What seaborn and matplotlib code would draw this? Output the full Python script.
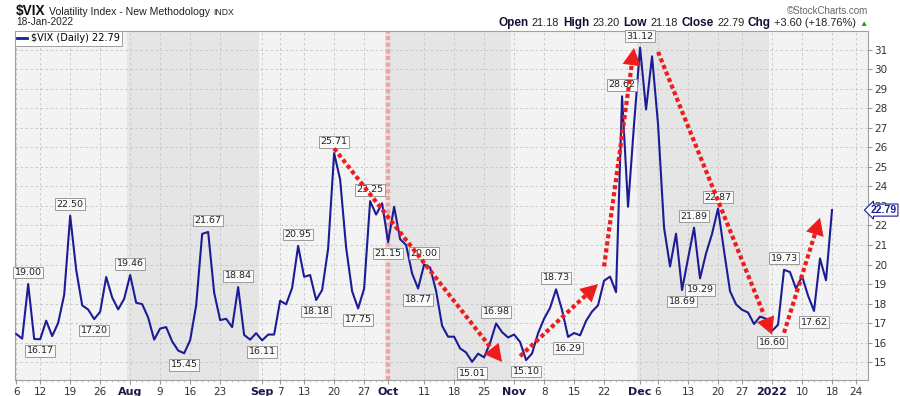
import pandas as pd
import matplotlib
matplotlib.use("Agg")
import matplotlib.pyplot as plt
import seaborn as sns

# --- data: $VIX daily closes ---
jul_close = [16.44, 16.20, 19.00, 16.18, 16.17, 17.12, 16.33, 17.01, 18.45, 22.50,
             19.73, 17.91, 17.69, 17.20, 17.58, 19.36, 18.31, 17.70, 18.24]
aug_close = [19.46, 18.04, 17.97, 17.28, 16.15, 16.72, 16.79, 16.06, 15.59, 15.45,
             16.12, 17.91, 21.57, 21.67, 18.56, 17.15, 17.22, 16.79, 18.84, 16.39,
             16.15, 16.48]
sep_close = [16.11, 16.41, 16.41, 18.14, 17.96, 18.80, 20.95, 19.37, 19.46, 18.18,
             18.69, 20.81, 25.71, 24.36, 20.87, 18.63, 17.75, 18.76, 23.25, 22.56,
             23.14]
oct_close = [21.15, 22.96, 21.30, 21.00, 19.54, 18.77, 20.00, 19.85, 18.64, 16.86,
             16.30, 16.30, 15.70, 15.49, 15.01, 15.43, 15.24, 15.98, 16.98, 16.53,
             16.26]
nov_close = [16.41, 16.03, 15.10, 15.44, 16.48, 17.22, 17.78, 18.73, 17.66, 16.29,
             16.49, 16.37, 17.11, 17.59, 17.91, 19.17, 19.38, 18.58, 28.62, 22.96,
             27.19]
dec_close = [31.12, 27.95, 30.67, 27.18, 21.89, 19.90, 21.58, 18.69, 20.31, 21.89,
             19.29, 20.57, 21.57, 22.87, 20.70, 18.63, 17.96, 17.68, 17.54, 16.95,
             17.33, 17.22]
jan_close = [16.60, 16.91, 19.73, 19.61, 18.76, 19.40, 18.41, 17.62, 20.31, 19.19,
             22.79]

holidays = ["2021-09-06", "2021-11-25", "2021-12-24", "2022-01-17"]

# annotated peaks / troughs: date, 1 = box above, -1 = box below
label_dates = ["2021-07-08", "2021-07-12", "2021-07-19", "2021-07-23", "2021-08-02",
               "2021-08-13", "2021-08-19", "2021-08-26", "2021-09-01", "2021-09-10",
               "2021-09-15", "2021-09-20", "2021-09-24", "2021-09-28", "2021-10-01",
               "2021-10-08", "2021-10-11", "2021-10-21", "2021-10-27", "2021-11-03",
               "2021-11-10", "2021-11-12", "2021-11-26", "2021-12-01", "2021-12-10",
               "2021-12-14", "2021-12-15", "2021-12-20", "2022-01-03", "2022-01-05",
               "2022-01-12"]
label_side = [1, -1, 1, -1, 1, -1, 1, 1, -1, 1, -1, 1, -1, 1, -1, -1, 1, -1, 1, -1,
              1, -1, 1, 1, -1, 1, -1, 1, -1, 1, -1]

tick_dates = ["2021-07-06", "2021-07-12", "2021-07-19", "2021-07-26", "2021-08-02",
              "2021-08-09", "2021-08-16", "2021-08-23", "2021-09-01", "2021-09-07",
              "2021-09-13", "2021-09-20", "2021-09-27", "2021-10-01", "2021-10-11",
              "2021-10-18", "2021-10-25", "2021-11-01", "2021-11-08", "2021-11-15",
              "2021-11-22", "2021-12-01", "2021-12-06", "2021-12-13", "2021-12-20",
              "2021-12-27", "2022-01-03", "2022-01-10", "2022-01-18", "2022-01-24"]
tick_labels = ["6", "12", "19", "26", "Aug", "9", "16", "23", "Sep", "7", "13", "20",
               "27", "Oct", "11", "18", "25", "Nov", "8", "15", "22", "Dec", "6", "13",
               "20", "27", "2022", "10", "18", "24"]
month_starts = ["2021-07-06", "2021-08-02", "2021-09-01", "2021-10-01", "2021-11-01",
                "2021-12-01", "2022-01-03"]

# hand-drawn trend arrows: (from date, from value, to date, to value)
arrows = [("2021-09-20", 25.95, "2021-10-28", 15.00),
          ("2021-11-02", 15.30, "2021-11-19", 19.00),
          ("2021-11-22", 19.90, "2021-11-30", 31.10),
          ("2021-12-06", 30.90, "2022-01-03", 16.40),
          ("2022-01-05", 16.50, "2022-01-13", 22.40)]

# --- build table ---
days = pd.bdate_range("2021-07-06", "2022-01-24")
days = days[~days.isin(pd.to_datetime(holidays))]
pos = {d: i for i, d in enumerate(days)}
closes = jul_close + aug_close + sep_close + oct_close + nov_close + dec_close + jan_close
df = pd.DataFrame({"date": days[:len(closes)], "close": closes})
df["pos"] = range(len(df))
close_by_date = dict(zip(df["date"], df["close"]))


def p(d):
    return pos[pd.Timestamp(d)]


NAVY = "#1c1c96"
RED = "#ee1c1c"

plt.rcParams["font.family"] = ["DejaVu Sans"]
fig = plt.figure(figsize=(9, 3.96), dpi=100)
fig.patch.set_facecolor("white")
ax = fig.add_axes([15 / 900, 16 / 396, 853 / 900, 349 / 396])
ax.set_facecolor("#f3f3f3")

# month bands
for i in range(len(month_starts)):
    x0 = p(month_starts[i]) - 0.5
    x1 = p(month_starts[i + 1]) - 0.5 if i + 1 < len(month_starts) else 200
    if i % 2 == 1:
        ax.axvspan(x0, x1, color="#e5e5e5", lw=0, zorder=0)

ax.set_xlim(-0.2, 142)
ax.set_ylim(14.08, 31.97)

# grid
for d in tick_dates:
    ax.axvline(p(d), color="#c4c4c4", lw=0.6, ls=(0, (3, 3)), zorder=1)
for v in range(15, 32):
    ax.axhline(v, color="#c4c4c4", lw=0.6, ls=(0, (3, 3)), zorder=1)

# pink marker line on Oct 1
ax.axvline(p("2021-10-01"), color="#f2a2a2", lw=3.2, ls=(0, (0.9, 0.6)), zorder=2)

sns.lineplot(data=df, x="pos", y="close", ax=ax, color=NAVY, lw=1.5, zorder=3,
             label=r"\$VIX (Daily) 22.79")

# value boxes
for d, side in zip(label_dates, label_side):
    v = close_by_date[pd.Timestamp(d)]
    ax.annotate(f"{v:.2f}", xy=(p(d), v), xytext=(0, 5 * side), textcoords="offset points",
                ha="center", va="bottom" if side > 0 else "top", fontsize=6.8,
                color="#222222", zorder=4,
                bbox=dict(boxstyle="square,pad=0.15", fc="#fafafa", ec="#9a9a9a", lw=0.7))

# red dotted arrows: dotted stem + solid head
for d0, v0, d1, v1 in arrows:
    x0, x1 = p(d0), p(d1)
    ax.plot([x0, x0 + 0.93 * (x1 - x0)], [v0, v0 + 0.93 * (v1 - v0)], color=RED, lw=3,
            ls=(0, (1, 0.7)), dash_capstyle="butt", zorder=6)
    ax.annotate("", xy=(x1, v1), xytext=(x0, v0), zorder=6,
                arrowprops=dict(arrowstyle="-|>,head_length=0.62,head_width=0.33",
                                fc=RED, ec=RED, lw=0, shrinkA=0, shrinkB=0,
                                mutation_scale=20))

# axes styling
ax.set_xlabel("")
ax.set_ylabel("")
ax.set_xticks([p(d) for d in tick_dates])
ax.set_xticklabels(tick_labels)
ax.set_xticks(range(len(days)), minor=True)
for lab in ax.get_xticklabels():
    if not lab.get_text().isdigit() or lab.get_text() == "2022":
        lab.set_fontweight("bold")
        lab.set_color("#1a1a4a")
        lab.set_fontsize(8)
    else:
        lab.set_color("#333333")
        lab.set_fontsize(7.5)
ax.tick_params(axis="x", which="major", length=3, pad=2, color="#999999")
ax.tick_params(axis="x", which="minor", length=1.5, color="#bbbbbb")

ax.yaxis.tick_right()
ax.set_yticks(range(15, 32))
ax.tick_params(axis="y", length=3, pad=1.5, labelsize=7.5, labelcolor="#333333",
               color="#999999")
for s in ax.spines.values():
    s.set_color("#a0a0a0")
    s.set_linewidth(0.8)

# last price tag
ax.annotate("22.79", xy=(1.0, 22.79), xycoords=("axes fraction", "data"),
            xytext=(2, 0), textcoords="offset points", ha="left", va="center",
            fontsize=7.5, fontweight="bold", color=NAVY, zorder=7,
            family=["Liberation Sans"],
            bbox=dict(boxstyle="larrow,pad=0.1", fc="white", ec=NAVY, lw=0.8),
            annotation_clip=False)

leg = ax.legend(loc="upper left", borderaxespad=0, fancybox=False, framealpha=1,
                edgecolor="#a0a0a0", fontsize=7, handlelength=1.0, handletextpad=0.4,
                borderpad=0.25)
leg.get_frame().set_linewidth(0.7)
for h in leg.get_lines():
    h.set_linewidth(2)


# --- header text ---
def text_row(pieces, x, y, align="left"):
    r = fig.canvas.get_renderer()
    objs = []
    for txt, size, weight, color in pieces:
        t = fig.text(0, y, txt, fontsize=size, fontweight=weight, color=color,
                     family=["Liberation Sans", "DejaVu Sans"], va="baseline")
        objs.append(t)
    widths = [t.get_window_extent(r).width / fig.bbox.width for t in objs]
    gap = 3.5 / 900
    total = sum(widths) + gap * (len(objs) - 1)
    cur = x if align == "left" else x - total
    for t, w in zip(objs, widths):
        t.set_x(cur)
        cur += w + gap


fy = lambda px: 1 - px / 396
text_row([(r"\$VIX", 9.8, "bold", "#111111"),
          ("Volatility Index - New Methodology", 7.6, "normal", "#222222"),
          ("INDX", 6.2, "normal", "#222222")], 16 / 900, fy(15))
fig.text(16 / 900, fy(25), "18-Jan-2022", fontsize=7.3, color="#222222",
         family=["Liberation Sans"], va="baseline")
fig.text(868 / 900, fy(14), "©StockCharts.com", fontsize=7, color="#666666",
         family=["Liberation Sans"], va="baseline", ha="right")
text_row([("Open", 8.5, "bold", "#111133"), ("21.18", 7.9, "normal", "#222222"),
          ("High", 8.5, "bold", "#111133"), ("23.20", 7.9, "normal", "#222222"),
          ("Low", 8.5, "bold", "#111133"), ("21.18", 7.9, "normal", "#222222"),
          ("Close", 8.5, "bold", "#111133"), ("22.79", 7.9, "normal", "#222222"),
          ("Chg", 8.5, "bold", "#111133"), ("+3.60 (+18.76%)", 7.9, "normal", "#222222"),
          ("▲", 6, "normal", "#1a9a1a")], 868 / 900, fy(26), align="right")

fig.savefig("out.png", dpi=100)
